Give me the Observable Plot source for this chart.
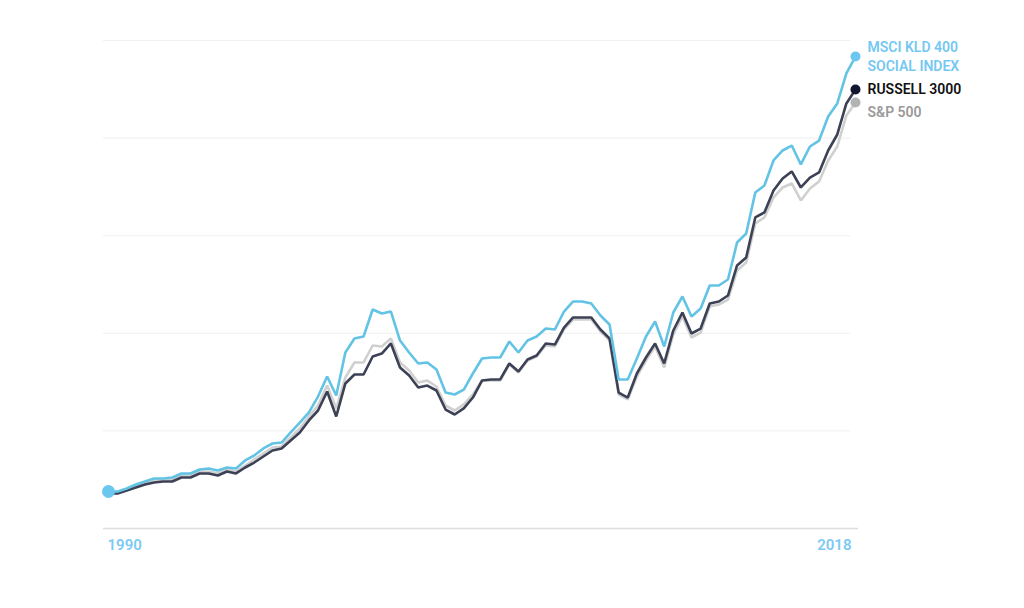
<!DOCTYPE html>
<html>
<head>
<meta charset="utf-8">
<script src="https://cdn.jsdelivr.net/npm/d3@7"></script>
<script src="https://cdn.jsdelivr.net/npm/@observablehq/plot@0.6"></script>
<style>
  html, body { margin: 0; padding: 0; background: #ffffff; }
  #chart svg { display: block; }
</style>
</head>
<body>
<div id="chart"></div>
<script>
// ---- Data (growth of an investment) ----
const startYear = 1990;
const endYear = 2018;

const msci = [
  37.9, 37.9, 41.0, 45.1, 48.2, 51.2, 51.2, 52.3, 56.4, 56.4,
  60.5, 61.5, 59.4, 62.5, 61.5, 69.7, 74.8, 82.0, 87.1, 88.1,
  98.4, 108.6, 118.9, 135.2, 155.7, 136.3, 180.3, 194.7, 196.7, 224.4,
  220.3, 222.3, 192.6, 180.3, 169.1, 170.1, 162.9, 139.3, 137.3, 142.4,
  158.8, 174.2, 175.2, 175.2, 191.6, 180.3, 192.6, 196.7, 204.9, 203.9,
  222.3, 232.6, 232.6, 230.5, 218.2, 209.0, 152.7, 152.7, 174.2, 196.7,
  212.1, 186.5, 221.3, 237.7, 217.2, 225.4, 249.0, 249.0, 255.1, 293.0,
  302.3, 344.3, 351.4, 377.1, 387.3, 392.4, 373.0, 391.4, 397.5, 422.1,
  435.5, 466.2, 483.6
];

const russell = [
  35.9, 35.9, 38.9, 42.0, 45.1, 47.1, 48.2, 48.2, 52.3, 52.3,
  56.4, 56.4, 54.3, 58.4, 56.4, 62.5, 67.6, 73.8, 79.9, 82.0,
  90.2, 98.4, 110.7, 120.9, 140.4, 114.8, 148.6, 157.8, 157.8, 176.2,
  179.3, 189.6, 165.0, 156.8, 144.5, 146.5, 141.4, 121.9, 116.8, 123.0,
  134.2, 151.6, 152.7, 152.7, 169.1, 160.9, 173.2, 177.3, 189.6, 188.5,
  205.9, 216.2, 216.2, 216.2, 203.9, 194.7, 139.3, 134.2, 158.8, 175.2,
  189.6, 169.1, 202.9, 221.3, 199.8, 204.9, 230.5, 232.6, 238.7, 269.5,
  277.7, 318.7, 323.8, 346.3, 358.6, 365.8, 349.4, 359.6, 364.8, 387.3,
  403.7, 435.5, 449.8
];

const sp500 = [
  36.9, 36.9, 40.0, 43.0, 46.1, 49.2, 50.2, 50.2, 54.3, 54.3,
  58.4, 58.4, 56.4, 60.5, 58.4, 64.5, 70.7, 76.8, 83.0, 84.0,
  93.2, 102.5, 114.8, 126.0, 146.5, 123.0, 154.7, 170.1, 170.1, 187.5,
  186.5, 194.7, 170.1, 161.9, 149.6, 151.6, 145.5, 126.0, 120.9, 127.1,
  137.3, 151.6, 151.6, 151.6, 168.0, 159.8, 172.1, 176.2, 187.5, 186.5,
  203.9, 214.1, 214.1, 214.1, 201.8, 192.6, 137.3, 132.2, 155.7, 172.1,
  186.5, 165.0, 198.8, 217.2, 195.7, 200.8, 227.5, 229.5, 234.6, 264.3,
  272.5, 312.5, 318.7, 339.1, 349.4, 353.5, 336.1, 348.4, 355.5, 377.1,
  391.4, 423.2, 436.5
];

const seriesLabels = ["MSCI KLD 400\nSOCIAL INDEX", "RUSSELL 3000", "S&P 500"];
const gridValues = [100, 200, 300, 400, 500];
const tickYears = [1990, 2018];

// ---- Build tables ----
const n = msci.length;
const yearAt = i => startYear + i * (endYear - startYear) / (n - 1);
const toRows = (arr, name) => arr.map((v, i) => ({ year: yearAt(i), value: v, series: name }));

const msciRows = toRows(msci, seriesLabels[0]);
const russellRows = toRows(russell, seriesLabels[1]);
const spRows = toRows(sp500, seriesLabels[2]);

const endSp = { ...spRows[n - 1], dot: "#b3b3b3", text: "#9a9a9a" };
const endRussell = { ...russellRows[n - 1], dot: "#12162f", text: "#111111" };
const endMsci = { ...msciRows[n - 1], dot: "#6cc7f0", text: "#74c8f2" };
const lastPoints = [endSp, endRussell, endMsci];

const labelStyle = { x: "year", y: "value", text: "series", fill: "text", textAnchor: "start", dx: 12, fontSize: 14, fontWeight: 600 };

const chart = Plot.plot({
  width: 1024,
  height: 608,
  marginLeft: 108,
  marginRight: 169,
  marginTop: 40,
  marginBottom: 80,
  x: { type: "linear", domain: [startYear, endYear], axis: null },
  y: { domain: [0, 500], axis: null },
  style: { fontFamily: "Roboto, 'Open Sans', sans-serif", background: "#ffffff", overflow: "visible" },
  marks: [
    Plot.ruleY(gridValues, { stroke: "#efefef", strokeWidth: 1, insetLeft: -5, insetRight: 5 }),
    Plot.ruleY([0], { stroke: "#dddddd", strokeWidth: 1.5, insetLeft: -5, insetRight: -3 }),
    Plot.lineY(spRows, { x: "year", y: "value", stroke: "#d0d0d0", strokeWidth: 2.6, strokeLinejoin: "miter" }),
    Plot.lineY(russellRows, { x: "year", y: "value", stroke: "#3d4156", strokeWidth: 2.6, strokeLinejoin: "miter" }),
    Plot.lineY(msciRows, { x: "year", y: "value", stroke: "#62c3e5", strokeWidth: 2.6, strokeLinejoin: "miter" }),
    Plot.dot([msciRows[0]], { x: "year", y: "value", r: 6.5, fill: "#6cc7f0" }),
    Plot.dot(lastPoints, { x: "year", y: "value", r: 5, fill: "dot" }),
    Plot.text([endSp], { ...labelStyle, dy: 10 }),
    Plot.text([endRussell], { ...labelStyle, dy: 0 }),
    Plot.text([endMsci], { ...labelStyle, dy: -1.5, lineHeight: 1.36 }),
    Plot.text([tickYears[0]], {
      x: d => d, y: () => 0, text: d => String(d), textAnchor: "start",
      dx: -1, dy: 17, fill: "#7dc9f3", fontSize: 15, fontWeight: 600
    }),
    Plot.text([tickYears[1]], {
      x: d => d, y: () => 0, text: d => String(d), textAnchor: "end",
      dx: -4, dy: 17, fill: "#7dc9f3", fontSize: 15, fontWeight: 600
    })
  ]
});

document.getElementById("chart").appendChild(chart);
</script>
</body>
</html>
